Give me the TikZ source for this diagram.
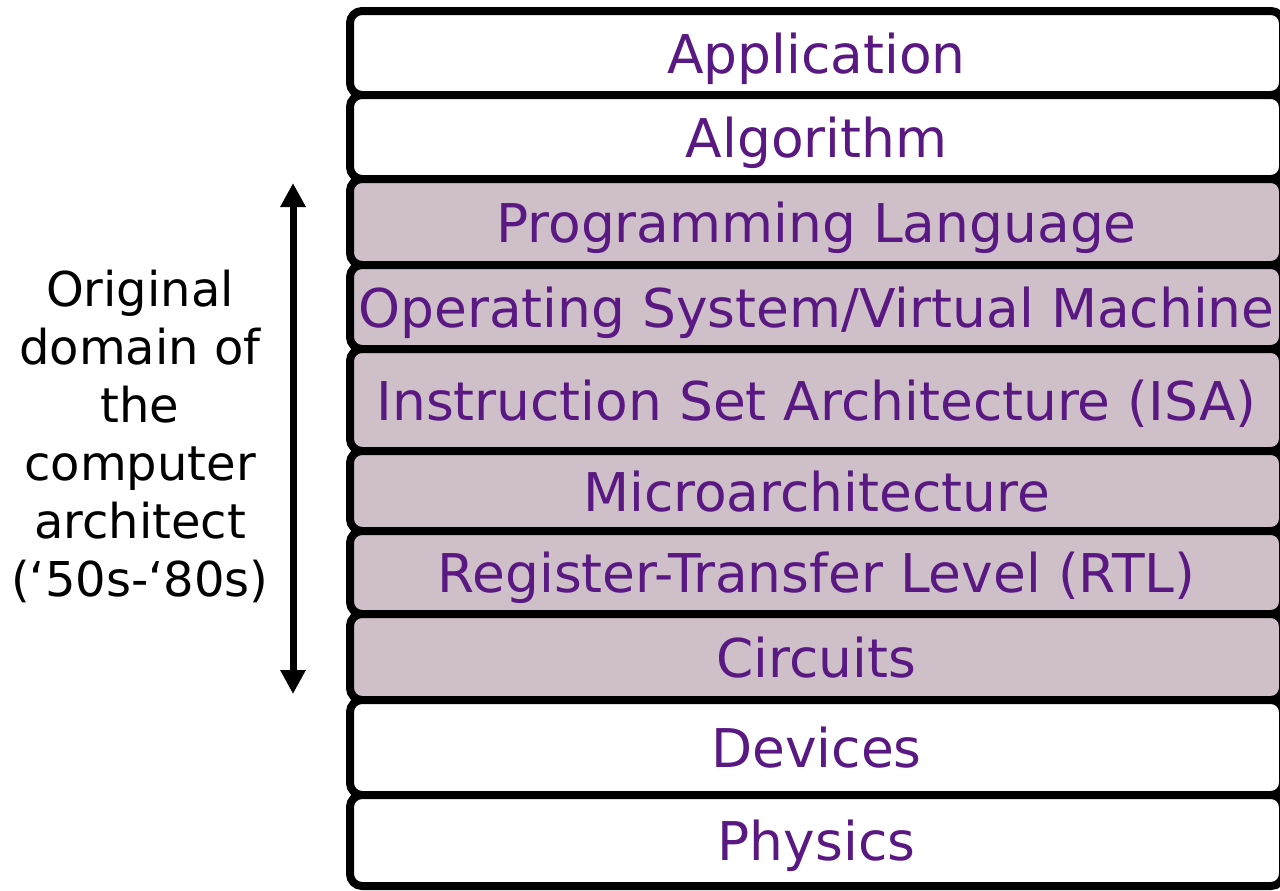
\documentclass[tikz,border=0pt]{standalone}
\usepackage{fontspec}
\setmainfont{DejaVu Sans}
\usetikzlibrary{arrows.meta}
\definecolor{layerfill}{HTML}{CFBFC9}
\definecolor{layertext}{HTML}{5A1882}
\begin{document}
\begin{tikzpicture}[x=0.5pt,y=-0.5pt,
  layer/.style={draw=black, line width=4pt, rounded corners=6pt,
    minimum width=466.5pt, inner sep=0pt, text=layertext,
    text height=20pt, text depth=0pt,
    font=\fontsize{26.7}{30}\selectfont},
  white/.style={layer, fill=white},
  shaded/.style={layer, fill=layerfill},
  side/.style={align=center, font=\fontsize{24}{29}\selectfont, text=black}]
\useasboundingbox (0,0) rectangle (1280,890);
\clip (0,0) rectangle (1280,890);
\node[white,  minimum height=42pt]   (app)   at (816.5,53)    {Application};
\node[white,  minimum height=42pt]   (alg)   at (816.5,137)   {Algorithm};
\node[shaded, minimum height=43pt]   (prog)  at (816.5,222)   {Programming Language};
\node[shaded, minimum height=42pt]   (os)    at (816.5,307)   {Operating System/Virtual Machine};
\node[shaded, minimum height=51pt]   (isa)   at (816.5,400)   {Instruction Set Architecture (ISA)};
\node[shaded, minimum height=40pt]   (micro) at (816.5,491)   {Microarchitecture};
\node[shaded, minimum height=41.5pt] (rtl)   at (816.5,572.5) {Register-Transfer Level (RTL)};
\node[shaded, minimum height=43pt]   (circ)  at (816.5,657)   {Circuits};
\node[white,  minimum height=47.5pt] (dev)   at (816.5,747.5) {Devices};
\node[white,  minimum height=45.5pt] (phys)  at (816.5,840.5) {Physics};
\coordinate (atop) at (293,183);
\coordinate (abot) at (293,694);
\draw[line width=3.5pt, {Triangle[width=12pt,length=12pt]}-{Triangle[width=12pt,length=12pt]}] (atop) -- (abot);
\node[side] (domain) at (140,436) {Original\\domain of\\the\\computer\\architect\\(‘50s-‘80s)};
\end{tikzpicture}
\end{document}
